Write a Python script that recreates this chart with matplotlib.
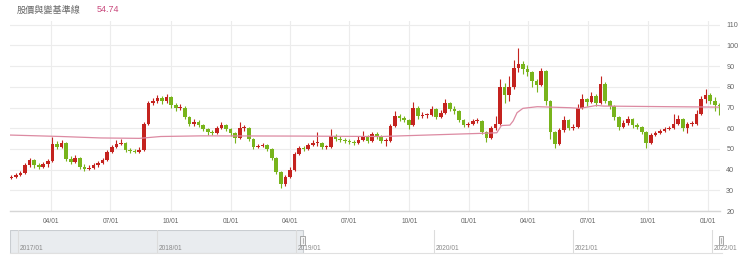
import matplotlib
matplotlib.use("Agg")
import matplotlib.pyplot as plt
import matplotlib.dates as mdates
from matplotlib.patches import Rectangle
import numpy as np
import pandas as pd

# weekly candles (open = previous close)
first_open = 36.0
closes = [36.5, 37.5, 38.5, 42, 44.5, 42, 41.5, 42.5, 44, 52.5,
          51, 53, 45, 43.5, 45.5, 41.5, 40.5, 41, 42, 43,
          44.5, 48.5, 51, 52.5, 53, 49.5, 49, 48.5, 49.5, 62,
          72, 73, 74.5, 73, 75, 71, 70, 70, 65.5, 62,
          63, 61.5, 59.5, 58, 57.5, 60, 61.5, 59.5, 57.5, 55.5,
          60, 60, 55, 51, 51.5, 52, 50, 45.5, 39, 33,
          36.5, 40, 47.5, 50.5, 50, 52, 53, 53, 51, 51,
          56, 55, 54.5, 54, 53.5, 53, 54.5, 56, 54, 57,
          56, 54, 54, 61, 66, 65, 64, 61.5, 70, 66,
          66.5, 66.5, 69.5, 65.5, 67.5, 72, 69.5, 68.5, 64, 61.5,
          62, 63.5, 63.5, 58, 55.5, 60, 62, 80, 76, 80,
          89, 91, 88.5, 87, 83, 81, 87.5, 73, 58, 52.5,
          59, 64, 60, 60.5, 70, 74, 72.5, 75.5, 72, 81.5,
          73, 70.5, 65.5, 60.5, 62.5, 64.5, 61.5, 60.5, 58, 53,
          56.5, 57.8, 58.8, 59.6, 60, 62, 64.5, 60, 62, 62,
          67, 74, 76, 73, 71, 70.5]
highs = [37.5, 38.5, 39.5, 43, 45.8, 45, 43, 43.5, 45, 55.6,
         54, 54.5, 53.5, 46.5, 47, 46, 42.5, 42, 43, 44,
         45.5, 49.5, 52, 54.5, 55, 53.5, 50.5, 49.8, 51, 63,
         73, 74.5, 76, 75.5, 76.5, 75.5, 72, 71.5, 70.5, 66,
         64.5, 64, 62, 60, 59, 61, 63, 62, 60, 58,
         62.8, 61.5, 60.5, 55.5, 52.5, 53, 52.5, 50.5, 46, 39.5,
         37.5, 41.5, 48.5, 51.5, 51.5, 53, 54.5, 58, 53.5, 52,
         59.5, 57, 56, 55.5, 55, 54.5, 56, 58.5, 56.5, 58,
         58, 56.5, 55.5, 62, 68.5, 67, 66, 64.5, 72.8, 70.5,
         68, 67.5, 70.5, 70, 69, 74, 72.5, 70.5, 69, 64.5,
         63, 64.5, 65, 64, 58.5, 61, 66, 84, 82, 85,
         93, 98.6, 92.5, 90.5, 87.5, 84, 89, 88, 73.5, 58.5,
         60, 66, 64.5, 62, 71.5, 76.5, 74.5, 77.5, 76.5, 85,
         82.5, 73.5, 71, 66, 64, 66, 65, 62.5, 61, 58.5,
         57.5, 58.8, 59.8, 60.5, 61, 67, 66.5, 65, 63, 63.5,
         69, 75.5, 79, 77, 75, 72]
lows = [35.5, 36, 37, 38, 41.5, 41, 40.5, 40.8, 41.5, 43.5,
        50, 50.5, 44, 42.5, 43, 40.5, 39.5, 40, 40.5, 41.5,
        42.5, 44, 48, 50.5, 52, 48.5, 48, 47.8, 48, 49,
        61.5, 71, 72, 71.5, 72, 70, 68.5, 69, 64.5, 61,
        61, 60.5, 58.5, 56.5, 56.5, 57, 59.5, 58.5, 56, 53,
        55, 58.5, 54, 50, 50.3, 50.8, 49, 44.5, 38, 31.2,
        32, 36, 39.5, 47, 49, 49.5, 51.5, 51.5, 50, 50,
        50.5, 54, 53.5, 53, 52.5, 52, 52.5, 54, 53, 53.5,
        55, 53, 51.5, 53.5, 60.5, 63.5, 63, 59.5, 61, 64.5,
        65, 65, 66, 64.5, 65, 67, 68.5, 67, 63, 60.5,
        60.5, 61.5, 62.5, 57, 53.5, 55, 59, 61.5, 72, 73,
        79, 87, 86, 85, 80, 77.5, 80.5, 71, 55, 50.2,
        52, 58, 59, 59, 60, 69.5, 70.5, 72, 70.5, 71.5,
        72, 69.5, 64, 59, 60, 61.5, 60, 59.5, 57, 50.5,
        52.5, 56, 57.3, 58.3, 59, 59.5, 61.5, 58.5, 57.5, 61,
        61.5, 66.5, 72, 71.5, 68.5, 66.5]

base_dates = ["2019-01-28", "2019-04-16", "2019-06-16", "2019-08-14", "2019-09-16",
              "2019-11-16", "2020-04-17", "2020-08-18", "2021-01-17", "2021-02-12",
              "2021-02-19", "2021-03-04", "2021-03-09", "2021-03-15", "2021-03-24",
              "2021-04-15", "2021-06-04", "2021-06-19", "2021-07-15", "2021-07-25",
              "2021-11-04", "2022-01-18"]
base_vals = [56.7, 56.0, 55.3, 55.1, 56.0,
             56.3, 56.2, 56.0, 57.5, 57.8,
             61.3, 61.5, 63.5, 67.5, 69.6,
             70.4, 69.9, 69.6, 71.0, 70.7,
             70.4, 70.2]

y_ticks = [20, 30, 40, 50, 60, 70, 80, 90, 100, 110]
nav_years = ["2017/01", "2018/01", "2019/01", "2020/01", "2021/01", "2022/01"]

title = "股價與變基準線"
title_val = "54.74"

up_col = "#c4231f"
down_col = "#78b41c"

opens = [first_open] + closes[:-1]
dates = pd.date_range("2019-01-30", periods=len(closes), freq="7D")
xd = mdates.date2num(dates)

W, H = 740, 257
fig = plt.figure(figsize=(W / 100, H / 100), dpi=100)
ax = fig.add_axes([10 / W, 1 - 211 / H, 710 / W, (211 - 20.6) / H])

o = np.array(opens)
c = np.array(closes)
up = c >= o
cols = np.where(up, up_col, down_col)
ax.vlines(xd, lows, highs, colors=cols, lw=0.8, zorder=3)
bot = np.minimum(o, c)
hgt = np.maximum(np.abs(c - o), 0.4)
ax.bar(xd, hgt, bottom=bot, width=5.6, color=cols, lw=0, zorder=4)

bx = mdates.date2num(pd.to_datetime(base_dates))
ax.plot(bx, base_vals, color="#dc8aa2", lw=0.9, zorder=5)

ax.set_xlim(mdates.date2num(pd.Timestamp("2019-01-28")), mdates.date2num(pd.Timestamp("2022-01-20")))
ax.set_ylim(20, 112)
ax.set_yticks(y_ticks)
ax.yaxis.tick_right()
ax.tick_params(axis="y", length=0, pad=4.5, labelsize=5.2, labelcolor="#666666")
ax.xaxis.set_major_locator(mdates.MonthLocator(bymonth=[1, 4, 7, 10]))
ax.xaxis.set_major_formatter(mdates.DateFormatter("%m/%d"))
ax.tick_params(axis="x", length=0, pad=5, labelsize=4.8, labelcolor="#666666")
for lab in ax.get_xticklabels() + ax.get_yticklabels():
    lab.set_family("Liberation Sans")
ax.grid(True, color="#ececec", lw=0.8)
ax.set_axisbelow(True)
for s in ["top", "left", "right"]:
    ax.spines[s].set_visible(False)
ax.spines["bottom"].set_color("#d6d6d6")
ax.spines["bottom"].set_linewidth(1.0)

# navigator strip
nav = fig.add_axes([10 / W, 1 - 253 / H, 712 / W, 23 / H])
n0 = mdates.date2num(pd.Timestamp("2016-12-10"))
n1 = mdates.date2num(pd.Timestamp("2022-01-27"))
nav.set_xlim(n0, n1)
nav.set_ylim(0, 1)
nav.set_xticks([])
nav.set_yticks([])
for s in ["top", "left", "right"]:
    nav.spines[s].set_visible(False)
nav.spines["bottom"].set_color("#e0e0e0")
sel = mdates.date2num(pd.Timestamp("2019-01-19"))
nav.add_patch(Rectangle((n0, 0), sel - n0, 1, facecolor="#e9ecef", edgecolor="#c9cdd1", lw=0.8, zorder=1))
for lab in nav_years:
    yx = mdates.date2num(pd.Timestamp(lab.replace("/", "-") + "-01"))
    nav.axvline(yx, color="#dcdcdc", lw=0.8, zorder=2)
    nav.text(yx + 4, 0.12, lab, fontsize=4.8, color="#8a8a8a", family="Liberation Sans", zorder=3, clip_on=False)
for hx in [sel, n1 - 3]:
    nav.add_patch(Rectangle((hx - 6, 0.35), 12, 0.4, facecolor="#f4f4f4", edgecolor="#999999", lw=0.6, zorder=4, clip_on=False))
    nav.plot([hx, hx], [0.45, 0.65], color="#999999", lw=0.5, zorder=5, clip_on=False)

fig.text(17 / W, 1 - 10 / H, title, fontsize=6.6, color="#666666", va="center",
         family=["Noto Sans CJK TC", "DejaVu Sans"])
fig.text(97 / W, 1 - 10 / H, title_val, fontsize=6.4, color="#c9487c", va="center", family="Liberation Sans")

fig.savefig("out.png", dpi=100)
